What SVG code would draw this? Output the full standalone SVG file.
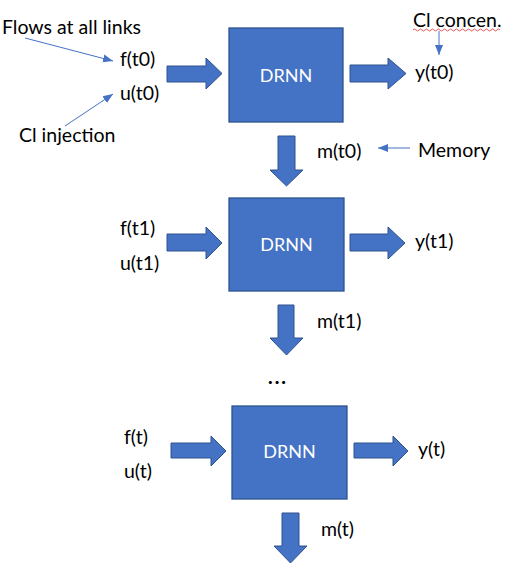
<svg xmlns="http://www.w3.org/2000/svg" width="507" height="565" viewBox="0 0 507 565">
<style>
.box{fill:#4472C4;stroke:#2F528F;stroke-width:1.3}
.blk{fill:#4472C4;stroke:#2F528F;stroke-width:1}
.t{font-family:Lato,"Liberation Sans",sans-serif;font-size:19.5px;fill:#000}
.w{font-family:Lato,"Liberation Sans",sans-serif;font-size:18px;fill:#fff;text-anchor:middle}
.thin{stroke:#4472C4;stroke-width:1;fill:none}
</style>
<defs>
<marker id="ah" viewBox="0 0 10 10" refX="10" refY="5" markerWidth="10" markerHeight="10" markerUnits="userSpaceOnUse" orient="auto">
<path d="M0,1 L10,5 L0,9 Z" fill="#4472C4"/>
</marker>
</defs>
<rect width="507" height="565" fill="#fff"/>
<g id="node-drnn1"><rect class="box" x="229" y="28" width="114" height="94"/><text class="w" x="286" y="82">DRNN</text></g>
<g id="node-drnn2"><rect class="box" x="229" y="198" width="115" height="93"/><text class="w" x="286.5" y="251">DRNN</text></g>
<g id="node-drnn3"><rect class="box" x="232" y="406" width="115" height="93"/><text class="w" x="289.5" y="458">DRNN</text></g>
<g id="labels">
<text class="t" x="2" y="34">Flows at all links</text>
<text class="t" x="120" y="66">f(t0)</text>
<text class="t" x="120" y="100">u(t0)</text>
<text class="t" x="19" y="142">Cl injection</text>
<text class="t" x="413" y="27">Cl concen.</text>
<path d="M413,30 q1.5,-2 3,0 t3,0 t3,0 t3,0 t3,0 t3,0 t3,0 t3,0 t3,0 t3,0 t3,0 t3,0 t3,0 t3,0 t3,0 t3,0 t3,0 t3,0 t3,0 t3,0 t3,0 t3,0 t3,0 t3,0 t3,0 t3,0 t3,0 t3,0 t3,0" stroke="#e03030" stroke-width="0.8" fill="none"/>
<text class="t" x="415" y="79">y(t0)</text>
<text class="t" x="317" y="158">m(t0)</text>
<text class="t" x="418" y="157">Memory</text>
<text class="t" x="120" y="235">f(t1)</text>
<text class="t" x="120" y="270">u(t1)</text>
<text class="t" x="415" y="248">y(t1)</text>
<text class="t" x="317" y="328">m(t1)</text>
<text class="t" x="268" y="384" font-size="36" font-weight="900" letter-spacing="2">...</text>
<text class="t" x="124" y="444">f(t)</text>
<text class="t" x="124" y="478">u(t)</text>
<text class="t" x="418" y="456">y(t)</text>
<text class="t" x="321" y="536">m(t)</text>
</g>
<g id="connectors">
<path class="blk" d="M167,66 H206 V58 L222,73.5 L206,89 V82 H167 Z"/>
<path class="blk" d="M350,65 H388 V58 L406,73.5 L388,89 V82 H350 Z"/>
<path class="blk" d="M278,136 H295 V170 H303 L286.5,186 L270,170 H278 Z"/>
<path class="blk" d="M167,234 H206 V227 L222,243 L206,259 V251 H167 Z"/>
<path class="blk" d="M350,234 H388 V227 L405,243 L388,259 V251 H350 Z"/>
<path class="blk" d="M278,305 H294 V338 H303 L286.5,355 L270,338 H278 Z"/>
<path class="blk" d="M171,443 H211 V436 L226,451 L211,466 V458 H171 Z"/>
<path class="blk" d="M354,443 H393 V436 L408,451 L393,466 V458 H354 Z"/>
<path class="blk" d="M282,513 H299 V546 H307 L290.5,563 L274,546 H282 Z"/>
<line class="thin" x1="25" y1="38" x2="113" y2="61" marker-end="url(#ah)"/>
<line class="thin" x1="65" y1="126" x2="113" y2="94" marker-end="url(#ah)"/>
<line class="thin" x1="439" y1="31" x2="439" y2="55" marker-end="url(#ah)"/>
<line class="thin" x1="410" y1="148" x2="378" y2="148" marker-end="url(#ah)"/>
</g>
</svg>
